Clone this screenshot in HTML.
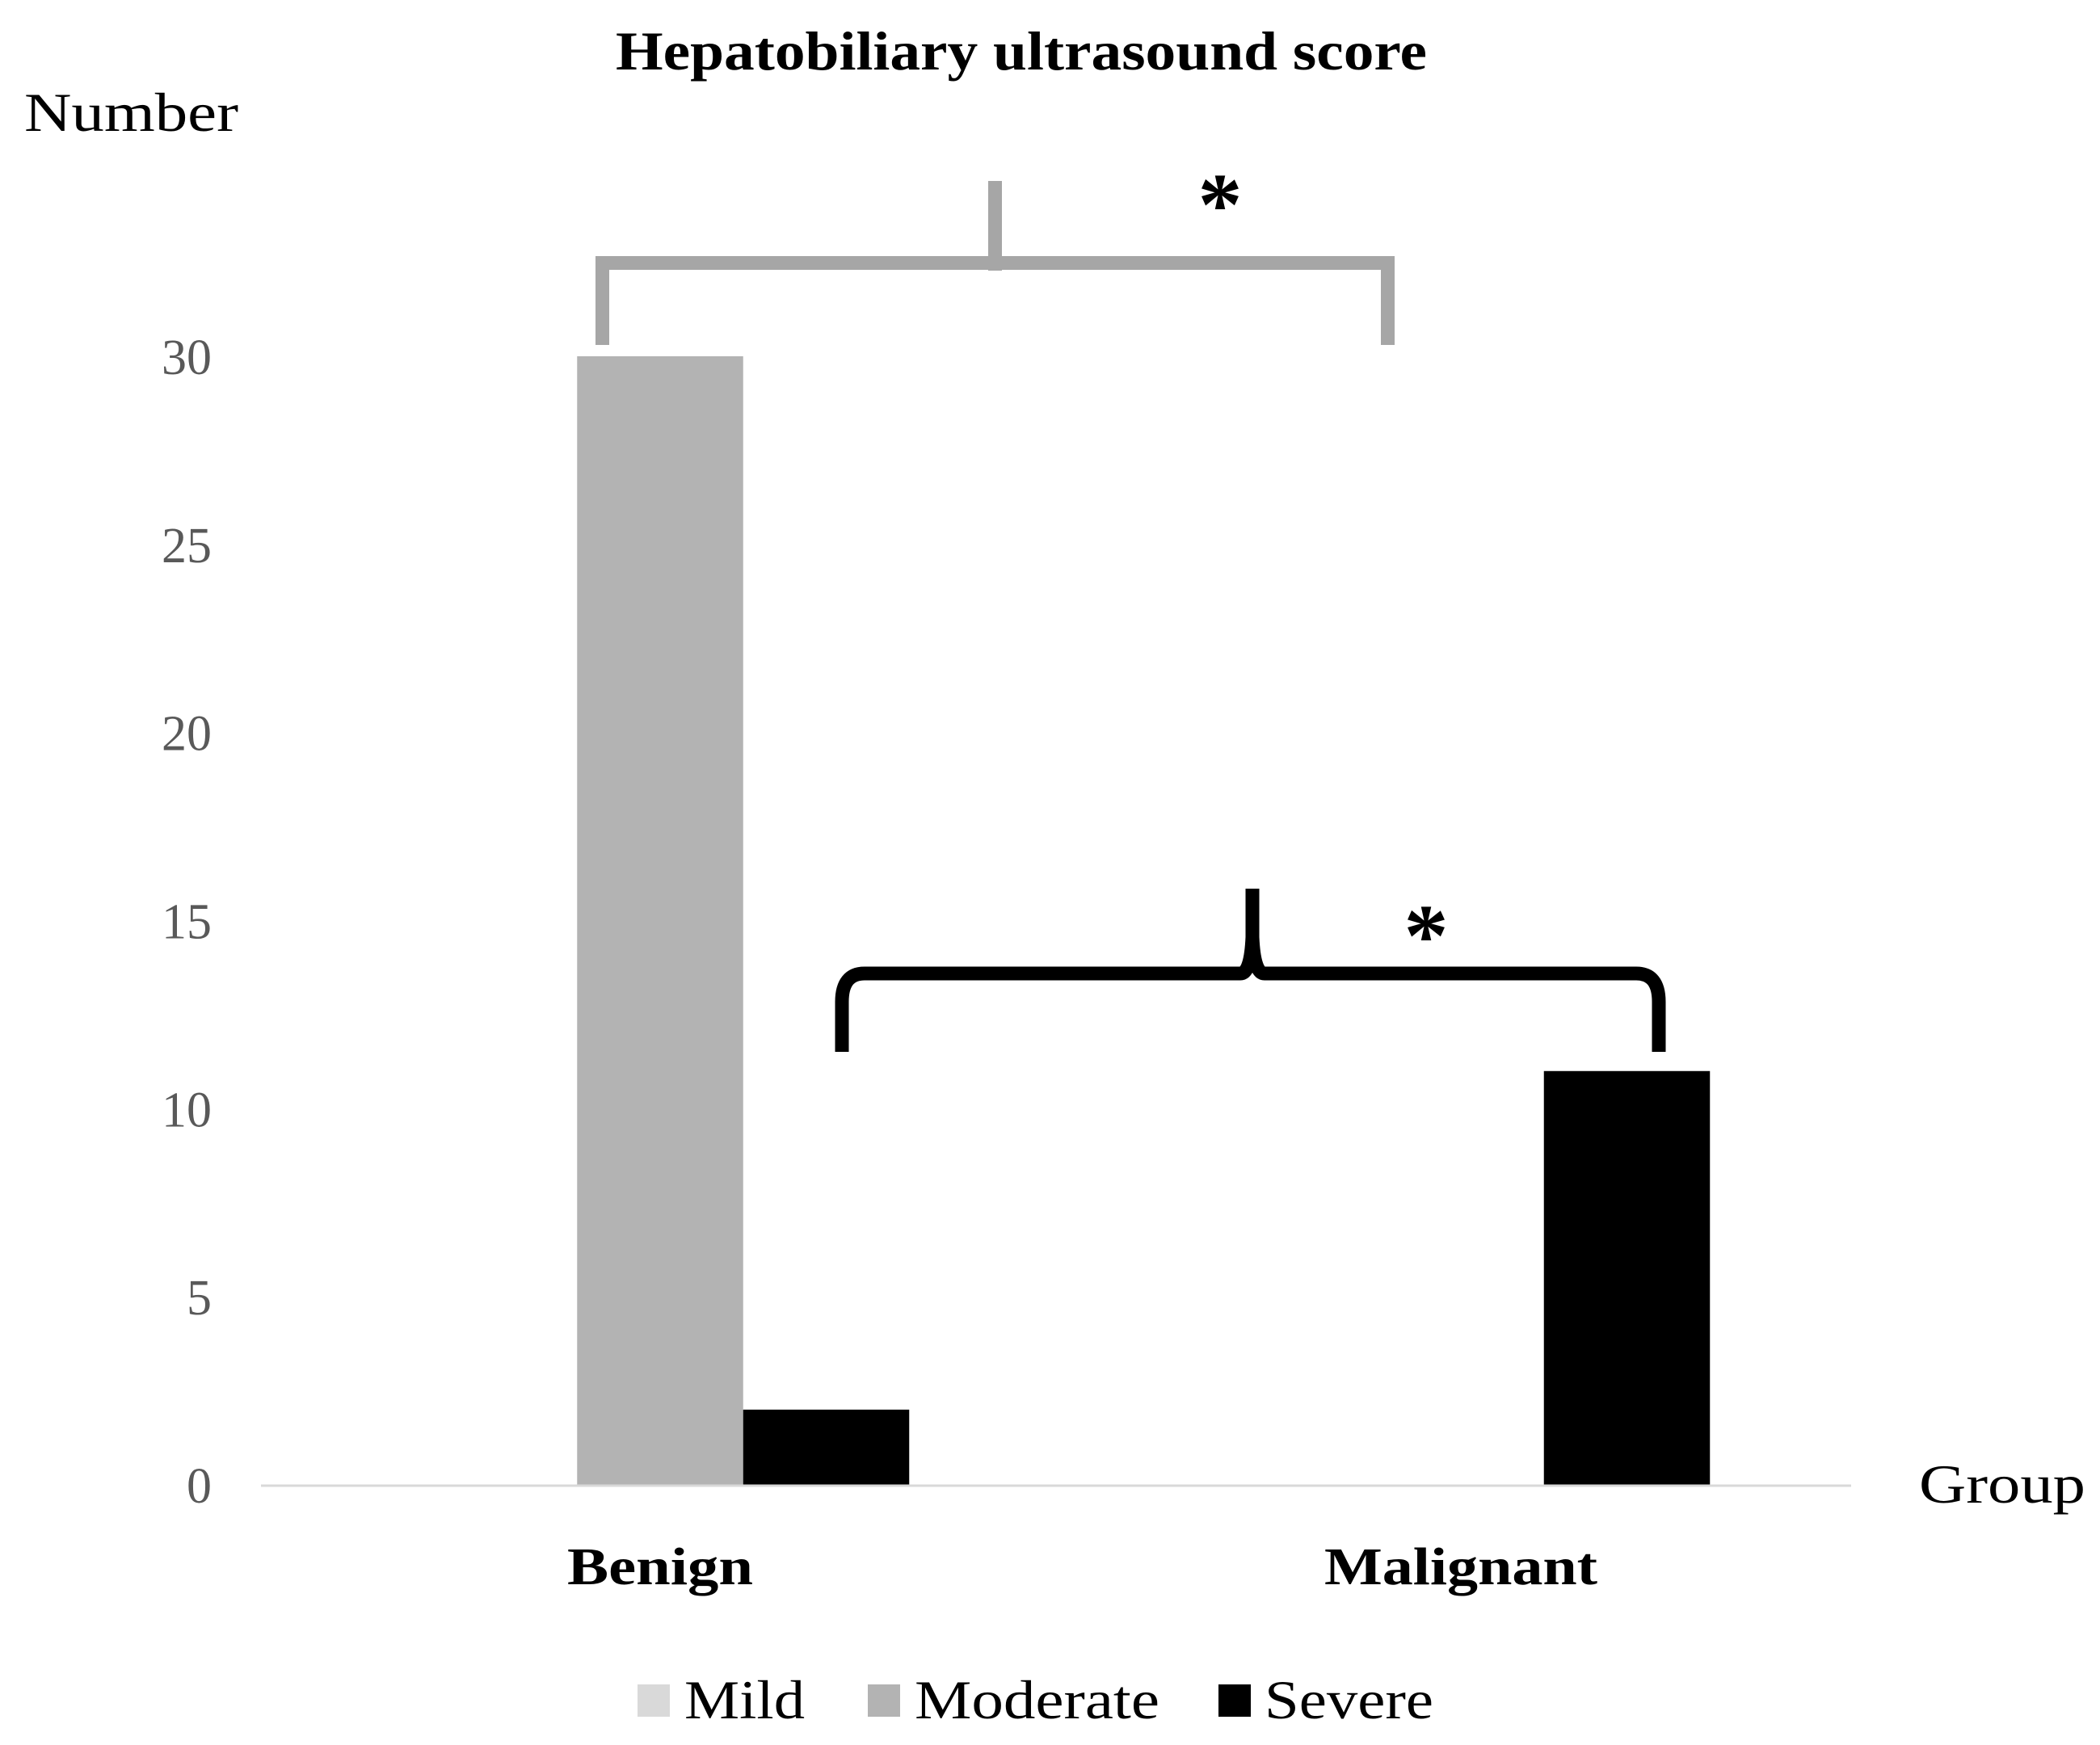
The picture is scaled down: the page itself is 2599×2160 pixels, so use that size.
<!DOCTYPE html>
<html><head><meta charset="utf-8"><style>
html,body{margin:0;padding:0;background:#fff;}
svg{display:block;}
text{font-family:"Liberation Serif",serif;}
</style></head><body>
<svg id="chart" width="2599" height="2160" viewBox="0 0 2599 2160" xmlns="http://www.w3.org/2000/svg">
<text x="762" y="86" textLength="1004" lengthAdjust="spacingAndGlyphs" font-size="68" font-weight="bold">Hepatobiliary ultrasound score</text>
<text x="30" y="162" textLength="265" lengthAdjust="spacingAndGlyphs" font-size="68">Number</text>
<text x="2375" y="1860" textLength="206" lengthAdjust="spacingAndGlyphs" font-size="68">Group</text>
<g id="ticks"></g>
<g id="bars"></g>
<line x1="323" y1="1839" x2="2291" y2="1839" stroke="#d9d9d9" stroke-width="3"/>
<g id="cats"></g>
<g fill="#a6a6a6">
<rect x="737" y="317" width="989" height="17"/>
<rect x="737" y="317" width="17" height="110"/>
<rect x="1709" y="317" width="17" height="110"/>
<rect x="1223" y="224" width="17" height="111"/>
</g>
<text x="1510" y="290" text-anchor="middle" font-size="110" font-weight="bold">*</text>
<path d="M1042 1302 L1042 1240 Q1042 1205 1070 1205 L1535 1205 Q1548 1205 1550 1160 L1550 1100 M1550 1160 Q1552 1205 1565 1205 L2025 1205 Q2053 1205 2053 1240 L2053 1302" fill="none" stroke="#000" stroke-width="17"/>
<text x="1765" y="1195" text-anchor="middle" font-size="110" font-weight="bold">*</text>
<g>
<rect x="789" y="2085" width="40" height="40" fill="#d9d9d9"/>
<text x="847" y="2127" textLength="149" lengthAdjust="spacingAndGlyphs" font-size="68">Mild</text>
<rect x="1074" y="2085" width="40" height="40" fill="#b3b3b3"/>
<text x="1132" y="2127" textLength="303" lengthAdjust="spacingAndGlyphs" font-size="68">Moderate</text>
<rect x="1508" y="2085" width="40" height="40" fill="#000"/>
<text x="1565" y="2127" textLength="209" lengthAdjust="spacingAndGlyphs" font-size="68">Severe</text>
</g>
</svg>
<script>
const categories = ["Benign", "Malignant"];
const mildValues = [0, 0];
const moderateValues = [30, 0];
const severeValues = [2, 11];
const tickValues = [0, 5, 10, 15, 20, 25, 30];
const NS = "http://www.w3.org/2000/svg";
const x0 = 321.5, yBase = 1838, y30 = 441;
function y(v){ return yBase - v * (yBase - y30) / 30; }
const catW = 991;
const barW = 205.5;
const catLabelW = [230, 338];
function catCenter(i){ return x0 + catW * (i + 0.5); }
const ticksG = document.getElementById('ticks');
tickValues.forEach(t => {
  const tx = document.createElementNS(NS, 'text');
  
  
  tx.setAttribute('x', 262); tx.setAttribute('y', y(t) + 22);
  tx.setAttribute('text-anchor', 'end'); tx.setAttribute('font-size', '62');
  tx.setAttribute('fill', '#595959');
  tx.textContent = t;
  ticksG.appendChild(tx);
});
const barsG = document.getElementById('bars');
const series = [[mildValues, '#d9d9d9', 'mild'], [moderateValues, '#b3b3b3', 'moderate'], [severeValues, '#000000', 'severe']];
categories.forEach((c, i) => {
  series.forEach((s, j) => {
    const v = s[0][i];
    if (v <= 0) return;
    const r = document.createElementNS(NS, 'rect');
    
    
    const bx = catCenter(i) + (j - 1.5) * barW;
    r.setAttribute('x', bx); r.setAttribute('width', barW);
    r.setAttribute('y', y(v)); r.setAttribute('height', yBase - y(v));
    r.setAttribute('fill', s[1]);
    barsG.appendChild(r);
  });
  const t = document.createElementNS(NS, 'text');
  
  
  t.setAttribute('x', catCenter(i) - catLabelW[i] / 2); t.setAttribute('y', 1961);
  t.setAttribute('textLength', catLabelW[i]);
  t.setAttribute('lengthAdjust', 'spacingAndGlyphs');
  t.setAttribute('font-size', '66');
  t.setAttribute('font-weight', 'bold');
  t.textContent = c;
  document.getElementById('cats').appendChild(t);
});
</script>
</body></html>
